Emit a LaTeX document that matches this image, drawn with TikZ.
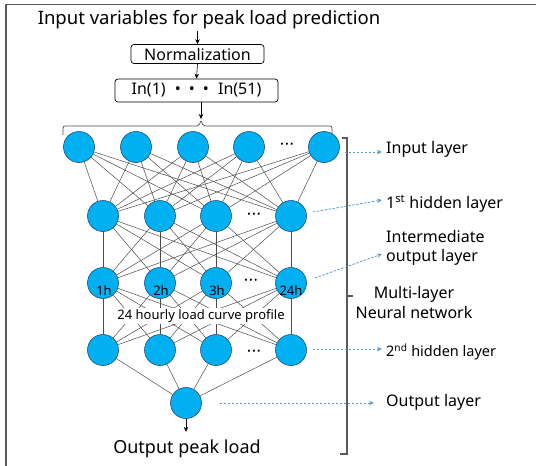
\documentclass[tikz,border=0pt]{standalone}
\usepackage{fontspec}
\setmainfont{Noto Sans}
\usetikzlibrary{arrows.meta,calc}
\definecolor{neuronfill}{RGB}{0,176,240}
\definecolor{neurondraw}{RGB}{30,80,130}
\definecolor{dashblue}{RGB}{91,155,213}
\definecolor{framegray}{RGB}{90,90,90}
\tikzset{
  neuron/.style={circle,minimum size=31pt,inner sep=0pt,fill=neuronfill,draw=neurondraw,line width=0.6pt},
  link/.style={draw=black!70,line width=0.5pt},
  flow/.style={draw=black,line width=0.6pt,-{Stealth[length=5pt,width=4.5pt]}},
  pointer/.style={draw=dashblue,line width=0.8pt,dash pattern=on 2.5pt off 1.5pt,-{Stealth[length=5pt,width=4.5pt]}},
  boxed/.style={draw=black,line width=0.7pt,rounded corners=3pt,inner sep=0pt,font=\fontsize{16}{18}\selectfont},
  label/.style={anchor=west,inner sep=0pt,font=\fontsize{16}{19}\selectfont,align=left},
  dots/.style={inner sep=0pt,font=\fontsize{9}{9}\selectfont},
  hour/.style={inner sep=0pt,font=\fontsize{13}{13}\selectfont},
}
\newcommand{\threedots}{\textbullet\hspace{1.5pt}\textbullet\hspace{1.5pt}\textbullet}
\begin{document}
\begin{tikzpicture}[x=1pt,y=-1pt]
\useasboundingbox (0,0) rectangle (536,466);
% outer frame (top and left edges only)
\draw[framegray,line width=1.5pt] (536,4.5) -- (6,4.5) -- (6,466);

% inputs and preprocessing
\node[inner sep=0pt,font=\fontsize{18.5}{20}\selectfont] (title) at (209,20) {Input variables for peak load prediction};
\node[boxed,minimum width=133pt,minimum height=19pt] (norm) at (197.5,54) {Normalization};
\node[boxed,minimum width=163pt,minimum height=23pt] (inbox) at (196.5,90.5) {In(1) \hspace{5pt}\textbullet\hspace{8pt}\textbullet\hspace{8pt}\textbullet\hspace{5pt} In(51)};
\coordinate (tin) at (197.5,31);
\coordinate (bracetip) at (201,119);
\draw[flow] (tin) -- (norm.north);
\draw[flow] (norm.south) -- (inbox.north);
\draw[flow] (inbox.south -| bracetip) -- (bracetip);

% brace over the input layer
\draw[black!70,line width=0.7pt,rounded corners=2pt]
  (63,135) -- (63,126) -- (199,126) -- (201,120) -- (203,126) -- (332,126) -- (332,135);

% input layer
\foreach \n/\x in {1/79,2/136,3/193,4/249,5/324}
  \node[neuron] (i\n) at (\x,147) {};
\node[dots] (idots) at (287,145) {\threedots};

% first hidden layer
\foreach \n/\x in {1/103,2/160,3/216,4/291}
  \node[neuron] (h\n) at (\x,216) {};
\node[dots] (hdots) at (254,215) {\threedots};

% intermediate output layer
\foreach \n/\x in {1/103,2/160,3/216,4/291}
  \node[neuron] (m\n) at (\x,283) {};
\node[dots] (mdots) at (251,281) {\threedots};

% second hidden layer
\foreach \n/\x in {1/103,2/160,3/216,4/291}
  \node[neuron] (g\n) at (\x,350) {};
\node[dots] (gdots) at (254,352) {\threedots};

% output neuron
\node[neuron] (out) at (186,403) {};

% connections
\foreach \a in {1,...,5}
  \foreach \b in {1,...,4}
    \draw[link] (i\a) -- (h\b);
\foreach \a in {1,...,4}
  \foreach \b in {1,...,4}
    \draw[link] (h\a) -- (m\b);
\foreach \a in {1,...,4}
  \foreach \b in {1,...,4}
    \draw[link] (m\a) -- (g\b);
\foreach \a in {1,...,4}
  \draw[link] (g\a) -- (out);

% hour labels on the intermediate neurons
\node[hour] (l1) at (104,291) {1h};
\node[hour] (l2) at (161,291) {2h};
\node[hour] (l3) at (217,291) {3h};
\node[hour] (l24) at (291,291) {24h};
\node[fill=white,inner xsep=2pt,inner ysep=1pt,font=\fontsize{13}{14}\selectfont] (profile) at (201,316) {24 hourly load curve profile};

% output
\node[inner sep=0pt,font=\fontsize{18}{20}\selectfont] (result) at (187,449) {Output peak load};
\draw[flow] (out.south) -- ++(0,13) coordinate (outarrow);

% bracket of the multi-layer network
\draw[framegray,line width=1.4pt] (342,138) -- (347,138) -- (347,454) -- (340,454);
\draw[framegray,line width=1.2pt] (347,296) -- (353,296);
\node[inner sep=0pt,font=\fontsize{16}{20}\selectfont,align=center] (mlnn) at (414,302) {Multi-layer\\Neural network};

% layer names
\node[label] (linput) at (386,149) {Input layer};
\node[label] (lh1) at (386,204) {1\textsuperscript{st} hidden layer};
\node[label] (linter) at (386,248) {Intermediate\\output layer};
\node[label,font=\fontsize{14.5}{17}\selectfont] (lh2) at (386,352) {2\textsuperscript{nd} hidden layer};
\node[label] (lout) at (386,402) {Output layer};

\draw[pointer] ($(i5.east)+(5,5)$) -- ($(linput.west)+(-4,3)$);
\draw[pointer] ($(h4.east)+(6,-4)$) -- ($(lh1.west)+(-4,-4)$);
\draw[pointer] ($(m4.east)+(8,-5)$) -- ($(linter.west)+(-4,6)$);
\draw[pointer] ($(g4.east)+(6,-1)$) -- ($(lh2.west)+(-4,-3)$);
\draw[pointer] ($(out.east)+(18,0)$) -- ($(lout.west)+(-12,1)$);
\end{tikzpicture}
\end{document}
